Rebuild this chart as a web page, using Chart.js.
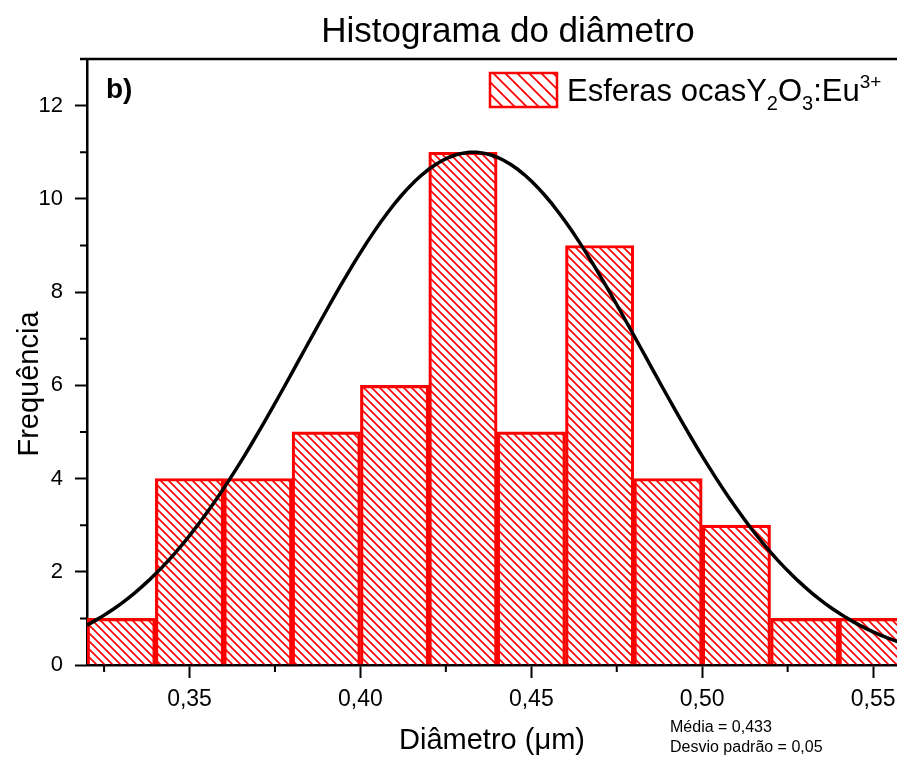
<!DOCTYPE html>
<html>
<head>
<meta charset="utf-8">
<script src="https://cdn.jsdelivr.net/npm/chart.js@4"></script>
<style>
    html, body { margin: 0; padding: 0; background: #fff; }
</style>
</head>
<body>
<canvas id="histogramaDiametro" width="897" height="760"></canvas>
<script>
const binCenters = [0.33, 0.35, 0.37, 0.39, 0.41, 0.43, 0.45, 0.47, 0.49, 0.51, 0.53, 0.55]
const frequencias = [1, 4, 4, 5, 6, 11, 5, 9, 4, 3, 1, 1]
const xTicks = [0.35, 0.40, 0.45, 0.50, 0.55]
const xMinorTicks = [0.325, 0.375, 0.425, 0.475, 0.525]
const yTicks = [0, 2, 4, 6, 8, 10, 12]
const yMinorTicks = [1, 3, 5, 7, 9, 11]

// parâmetros do ajuste gaussiano
const media = 0.433
const desvioPadrao = 0.05
const picoCurva = 11

const fonte = 'Liberation Sans, Arial, sans-serif'
const vermelho = '#ff0000'

function hachura(passo, espessura) {
    const c = document.createElement('canvas')
    c.width = passo
    c.height = passo
    const g = c.getContext('2d')
    g.strokeStyle = vermelho
    g.lineWidth = espessura
    g.beginPath()
    g.moveTo(-1, -1); g.lineTo(passo + 1, passo + 1)
    g.moveTo(-1, passo - 1); g.lineTo(1, passo + 1)
    g.moveTo(passo - 1, -1); g.lineTo(passo + 1, 1)
    g.stroke()
    return g.createPattern(c, 'repeat')
}

const ctx = document.getElementById('histogramaDiametro').getContext('2d')
const padraoBarras = hachura(8, 1.6)
const padraoLegenda = hachura(12, 1.8)

const barras = binCenters.map((x, i) => ({ x: x, y: frequencias[i] }))

// curva normal com a média e o desvio informados
const curva = []
for (let i = 0; i <= 120; i++) {
    const x = 0.32 + i * 0.002
    curva.push({ x: x, y: picoCurva * Math.exp(-Math.pow(x - media, 2) / (2 * desvioPadrao * desvioPadrao)) })
}

const extras = {
    id: 'extras',
    afterDraw(chart) {
        const c = chart.ctx
        const area = chart.chartArea
        const sx = chart.scales.x
        const sy = chart.scales.y
        c.save()

        // moldura superior
        c.strokeStyle = '#000'
        c.lineWidth = 2.5
        c.beginPath()
        c.moveTo(80, area.top)
        c.lineTo(area.right, area.top)
        c.stroke()

        // ticks menores
        c.lineWidth = 2
        c.beginPath()
        xMinorTicks.forEach(v => {
            const px = sx.getPixelForValue(v)
            c.moveTo(px, area.bottom)
            c.lineTo(px, area.bottom + 7)
        })
        yMinorTicks.forEach(v => {
            const py = sy.getPixelForValue(v)
            c.moveTo(area.left - 7, py)
            c.lineTo(area.left, py)
        })
        c.stroke()

        c.fillStyle = '#000'
        c.textBaseline = 'alphabetic'

        // título
        c.font = '35px ' + fonte
        c.textAlign = 'center'
        c.fillText('Histograma do diâmetro', 508, 42)

        // título do eixo y
        c.save()
        c.translate(38, 384)
        c.rotate(-Math.PI / 2)
        c.font = '29px ' + fonte
        c.fillText('Frequência', 0, 0)
        c.restore()

        c.textAlign = 'left'
        c.font = 'bold 28px ' + fonte
        c.fillText('b)', 106, 98)

        // legenda
        c.fillStyle = padraoLegenda
        c.fillRect(490, 73, 67, 34)
        c.strokeStyle = vermelho
        c.lineWidth = 2.5
        c.strokeRect(490, 73, 67, 34)

        c.fillStyle = '#000'
        let x = 567
        const partes = [
            ['Esferas ocasY', 31, 0],
            ['2', 20, 9],
            ['O', 31, 0],
            ['3', 20, 9],
            [':Eu', 31, 0],
            ['3+', 19, -13]
        ]
        partes.forEach(p => {
            c.font = p[1] + 'px ' + fonte
            c.fillText(p[0], x, 101 + p[2])
            x += c.measureText(p[0]).width
        })

        c.font = '16px ' + fonte
        c.fillText('Média = 0,433', 670, 732)
        c.fillText('Desvio padrão = 0,05', 670, 752)

        c.restore()
    }
}

new Chart(ctx, {
    type: 'bar',
    data: {
        datasets: [
            {
                type: 'line',
                data: curva,
                borderColor: '#000',
                borderWidth: 3.5,
                pointRadius: 0,
                tension: 0,
                order: 0
            },
            {
                type: 'bar',
                data: barras,
                backgroundColor: padraoBarras,
                borderColor: vermelho,
                borderWidth: 2.5,
                barPercentage: 1,
                categoryPercentage: 1,
                order: 1
            }
        ]
    },
    options: {
        responsive: false,
        animation: false,
        layout: { padding: { top: 59, right: 0, left: 0, bottom: 0 } },
        plugins: {
            legend: { display: false },
            tooltip: { enabled: false }
        },
        scales: {
            x: {
                type: 'linear',
                min: 0.32,
                max: 0.557,
                offset: false,
                afterBuildTicks: s => { s.ticks = xTicks.map(v => ({ value: v })) },
                afterFit: s => {
                    s.height = 95
                    s.paddingLeft = 0
                    s.paddingRight = 0
                },
                grid: { drawOnChartArea: false, offset: false, tickLength: 13, tickWidth: 2, tickColor: '#000' },
                border: { color: '#000', width: 2.5 },
                ticks: {
                    color: '#000',
                    font: { family: fonte, size: 23 },
                    padding: 8,
                    maxRotation: 0,
                    autoSkip: false,
                    callback: v => v.toFixed(2).replace('.', ',')
                },
                title: {
                    display: true,
                    text: 'Diâmetro (μm)',
                    color: '#000',
                    font: { family: fonte, size: 29 },
                    padding: 2
                }
            },
            y: {
                min: 0,
                max: 13,
                afterBuildTicks: s => { s.ticks = yTicks.map(v => ({ value: v })) },
                afterFit: s => { s.width = 87 },
                grid: { drawOnChartArea: false, tickLength: 12, tickWidth: 2, tickColor: '#000' },
                border: { color: '#000', width: 2.5 },
                ticks: {
                    color: '#000',
                    font: { family: fonte, size: 22 },
                    padding: 12
                }
            }
        }
    },
    plugins: [extras]
})
</script>
</body>
</html>
